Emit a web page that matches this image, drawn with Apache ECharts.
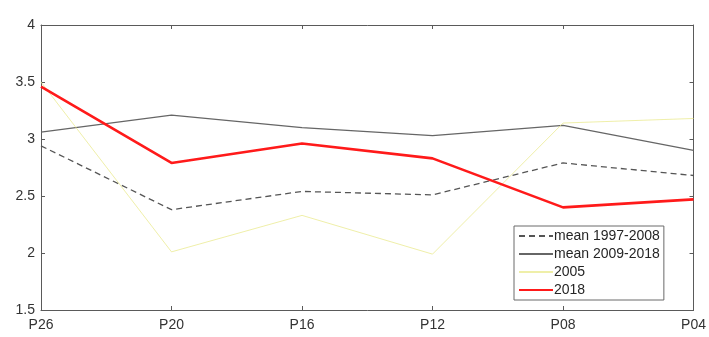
<!DOCTYPE html>
<html>
<head>
<meta charset="utf-8">
<script src="https://cdn.jsdelivr.net/npm/echarts@6/dist/echarts.min.js"></script>
<style>
  html, body { margin: 0; padding: 0; background: #fff; }
  #chart { width: 709px; height: 337px; }
</style>
</head>
<body>
<div id="chart"></div>
<script>
// Station categories along the x axis
const categories = ['P26', 'P20', 'P16', 'P12', 'P08', 'P04'];
// Series values per station
const mean1997_2008 = [2.94, 2.38, 2.54, 2.51, 2.79, 2.68];
const mean2009_2018 = [3.06, 3.21, 3.10, 3.03, 3.12, 2.90];
const year2005 = [3.50, 2.01, 2.33, 1.99, 3.14, 3.18];
const year2018 = [3.46, 2.79, 2.96, 2.83, 2.40, 2.47];
// Y axis range
const yMin = 1.5, yMax = 4, yStep = 0.5;

const axisColor = '#5a5a5a';
const font = 'Liberation Sans, Arial, sans-serif';

const chart = echarts.init(document.getElementById('chart'), null, { renderer: 'canvas' });

const baseX = {
  type: 'category',
  data: categories,
  boundaryGap: false,
  axisLine: { show: true, onZero: false, lineStyle: { color: axisColor, width: 1 } },
  axisTick: { show: true, inside: true, length: 4, alignWithLabel: true, lineStyle: { color: axisColor } },
  splitLine: { show: false }
};
const baseY = {
  type: 'value',
  min: yMin, max: yMax, interval: yStep,
  axisLine: { show: true, lineStyle: { color: axisColor, width: 1 } },
  axisTick: { show: true, inside: true, length: 4, lineStyle: { color: axisColor } },
  splitLine: { show: false }
};

chart.setOption({
  animation: false,
  backgroundColor: '#ffffff',
  grid: { left: 41, right: 11, top: 25, bottom: 27, containLabel: false },
  xAxis: [
    Object.assign({}, baseX, {
      position: 'bottom',
      axisLabel: { color: '#333', fontSize: 14, fontFamily: font, margin: 8 }
    }),
    Object.assign({}, baseX, {
      position: 'top',
      axisLabel: { show: false }
    })
  ],
  yAxis: [
    Object.assign({}, baseY, {
      position: 'left',
      axisLabel: {
        color: '#333', fontSize: 14, fontFamily: font, margin: 6,
        formatter: v => String(v)
      }
    }),
    Object.assign({}, baseY, {
      position: 'right',
      axisLabel: { show: false }
    })
  ],
  legend: {
    orient: 'vertical',
    left: 514,
    top: 226,
    width: 148,
    backgroundColor: '#ffffff',
    borderColor: '#6a6a6a',
    borderWidth: 1,
    borderRadius: 0,
    padding: [3, 4, 3, 4],
    itemWidth: 34,
    itemHeight: 14,
    itemGap: 4,
    itemStyle: { opacity: 0 },
    textStyle: { color: '#262626', fontSize: 14, fontFamily: font, padding: [0, 0, 0, -4] },
    data: ['mean 1997-2008', 'mean 2009-2018', '2005', '2018']
  },
  series: [
    {
      name: 'mean 1997-2008',
      type: 'line',
      data: mean1997_2008,
      symbol: 'none',
      lineStyle: { color: '#555', width: 1.3, type: [6, 4] },
      itemStyle: { color: '#555' }
    },
    {
      name: 'mean 2009-2018',
      type: 'line',
      data: mean2009_2018,
      symbol: 'none',
      lineStyle: { color: '#666', width: 1.3 },
      itemStyle: { color: '#666' }
    },
    {
      name: '2005',
      type: 'line',
      data: year2005,
      symbol: 'none',
      lineStyle: { color: '#eaea8c', width: 1, opacity: 0.75 },
      itemStyle: { color: '#eaea8c' }
    },
    {
      name: '2018',
      type: 'line',
      data: year2018,
      symbol: 'none',
      lineStyle: { color: '#ff1a1a', width: 2.6 },
      itemStyle: { color: '#ff1a1a' }
    }
  ]
});
</script>
</body>
</html>
